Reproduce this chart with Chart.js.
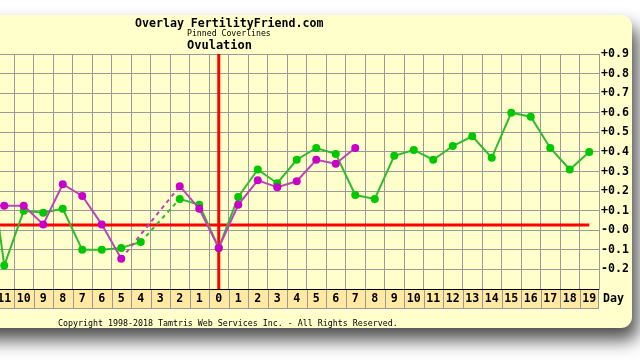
<!DOCTYPE html>
<html>
<head>
<meta charset="utf-8">
<script src="https://cdn.jsdelivr.net/npm/chart.js@4"></script>
<style>
  html, body { margin: 0; padding: 0; background: #fff; }
  #wrap { position: relative; width: 640px; height: 363px; overflow: hidden; }
  /* the chart is cut off on the left in the original, so the canvas hangs off the edge */
  #chart { position: absolute; left: -40px; top: 0; }
</style>
</head>
<body>
<div id="wrap"><canvas id="chart" width="680" height="363"></canvas></div>
<script>
// days relative to ovulation
const days = [-12, -11, -10, -9, -8, -7, -6, -5, -4, -3, -2, -1,
  0, 1, 2, 3, 4, 5, 6, 7, 8, 9, 10, 11, 12, 13, 14, 15, 16, 17, 18, 19];

// current cycle (green)
const currentCycle = [0.55, -0.18, 0.10, 0.09, 0.11, -0.10, -0.10, -0.09, -0.06, null, 0.16, 0.13,
  -0.09, 0.17, 0.31, 0.24, 0.36, 0.42, 0.39, 0.18, 0.16, 0.38, 0.41, 0.36, 0.43, 0.48, 0.37, 0.60, 0.58, 0.42, 0.31, 0.40];

// pinned cycle (magenta)
const pinnedCycle = [0.12, 0.125, 0.125, 0.03, 0.235, 0.175, 0.03, -0.145, null, null, 0.225, 0.11,
  -0.09, 0.13, 0.255, 0.22, 0.25, 0.36, 0.34, 0.42, null, null, null, null, null, null, null, null, null, null, null, null];

const coverline = 0.027;
const ovulationDay = 0;

const yMin = -0.3;
const yMax = 0.9;
const yStep = 0.1;

const titleText = "Overlay FertilityFriend.com";
const subTitleText = "Pinned Coverlines";
const chartLabel = "Ovulation";
const axisName = "Day";
const copyrightText = "Copyright 1998-2018 Tamtris Web Services Inc. - All Rights Reserved.";

const MONO = '"DejaVu Sans Mono", "Liberation Mono", monospace';
const SHIFT = 40; // canvas offset to the left

// dashed where a day is missing
const gapDash = (ctx) => (ctx.p0.skip || ctx.p1.skip ? [4, 4] : undefined);

const framePlugin = {
  id: "frame",
  beforeDraw(chart) {
    const { ctx, chartArea, scales } = chart;
    ctx.save();
    ctx.fillStyle = "#fff";
    ctx.fillRect(0, 0, chart.width, chart.height);

    // panel with shadow
    ctx.shadowColor = "rgba(0,0,0,0.7)";
    ctx.shadowBlur = 18;
    ctx.shadowOffsetX = 6;
    ctx.shadowOffsetY = 12;
    ctx.fillStyle = "#FFFFCC";
    ctx.beginPath();
    ctx.roundRect(-20, 15, 632 + SHIFT + 20, 313, [0, 11, 11, 0]);
    ctx.fill();
    ctx.restore();

    // titles
    ctx.save();
    ctx.fillStyle = "#000";
    ctx.textBaseline = "alphabetic";
    ctx.font = "bold 11.6px " + MONO;
    ctx.fillText(titleText, 135 + SHIFT, 27);
    ctx.font = "8.2px " + MONO;
    ctx.fillText(subTitleText, 187 + SHIFT, 36);
    ctx.font = "bold 12px " + MONO;
    ctx.fillText(chartLabel, 187 + SHIFT, 49);

    // day label cells
    const x = scales.x;
    const half = (chartArea.right - chartArea.left) / days.length / 2;
    const top = chartArea.bottom;
    const bottom = top + 20;
    ctx.fillStyle = "#FFE9A3";
    ctx.fillRect(chartArea.left, top, chartArea.right - chartArea.left, bottom - top);
    ctx.strokeStyle = "#999";
    ctx.lineWidth = 1;
    ctx.beginPath();
    days.forEach((d, i) => {
      const px = Math.round(x.getPixelForValue(i) - half) + 0.5;
      ctx.moveTo(px, top);
      ctx.lineTo(px, bottom);
    });
    ctx.moveTo(chartArea.right - 0.5, top);
    ctx.lineTo(chartArea.right - 0.5, bottom);
    ctx.moveTo(chartArea.left, bottom - 0.5);
    ctx.lineTo(chartArea.right, bottom - 0.5);
    ctx.stroke();

    ctx.fillStyle = "#000";
    ctx.font = "bold 11.6px " + MONO;
    ctx.textBaseline = "middle";
    ctx.fillText(axisName, 603 + SHIFT, 299);

    ctx.font = "8.3px " + MONO;
    ctx.textBaseline = "alphabetic";
    ctx.fillText(copyrightText, 58 + SHIFT, 326);
    ctx.restore();
  },
  beforeDatasetsDraw(chart) {
    const { ctx, chartArea, scales } = chart;
    const px = scales.x.getPixelForValue(days.indexOf(ovulationDay));
    ctx.save();
    ctx.strokeStyle = "#FF0000";
    ctx.lineWidth = 3;
    ctx.beginPath();
    ctx.moveTo(px, chartArea.top);
    ctx.lineTo(px, chartArea.bottom);
    ctx.stroke();
    ctx.restore();
  },
};

new Chart(document.getElementById("chart"), {
  type: "line",
  data: {
    labels: days.map(String),
    datasets: [
      {
        label: "Pinned",
        data: pinnedCycle,
        borderColor: "#BB44BB",
        backgroundColor: "#C800C8",
        pointBackgroundColor: "#C800C8",
        pointBorderWidth: 0,
        borderWidth: 2,
        pointRadius: 4,
        spanGaps: true,
        segment: { borderDash: gapDash },
        order: 0,
      },
      {
        label: "Current",
        data: currentCycle,
        borderColor: "#2EBB2E",
        backgroundColor: "#00C800",
        pointBackgroundColor: "#00C800",
        pointBorderWidth: 0,
        borderWidth: 2,
        pointRadius: 4,
        spanGaps: true,
        segment: { borderDash: gapDash },
        order: 1,
      },
      {
        label: "Coverline",
        data: days.map(() => coverline),
        borderColor: "#FF0000",
        borderWidth: 3,
        pointRadius: 0,
        order: 2,
      },
    ],
  },
  options: {
    responsive: false,
    animation: false,
    devicePixelRatio: 1,
    layout: { padding: { left: 15, right: 0, top: 54, bottom: 54 } },
    plugins: { legend: { display: false }, tooltip: { enabled: false } },
    scales: {
      x: {
        offset: true,
        grid: { color: "#9A9A9A", offset: true, drawTicks: false },
        border: { color: "#000", width: 1 },
        ticks: {
          autoSkip: false,
          maxRotation: 0,
          padding: 3,
          color: "#000",
          font: { family: MONO, size: 11.6, weight: "bold" },
          callback: (value, index) => String(Math.abs(days[index])),
        },
        afterFit: (scale) => { scale.height = 20; },
      },
      y: {
        position: "right",
        min: yMin,
        max: yMax,
        grid: { color: "#9A9A9A", drawTicks: false },
        border: { color: "#9A9A9A" },
        ticks: {
          stepSize: yStep,
          padding: 2,
          color: "#000",
          font: { family: MONO, size: 11.6, weight: "bold" },
          callback: (v) => {
            if (v < yMin + 0.05) return "";
            return (v > 1e-9 ? "+" : "-") + Math.abs(v).toFixed(1);
          },
        },
        afterFit: (scale) => { scale.width = 41; },
      },
    },
  },
  plugins: [framePlugin],
});
</script>
</body>
</html>
